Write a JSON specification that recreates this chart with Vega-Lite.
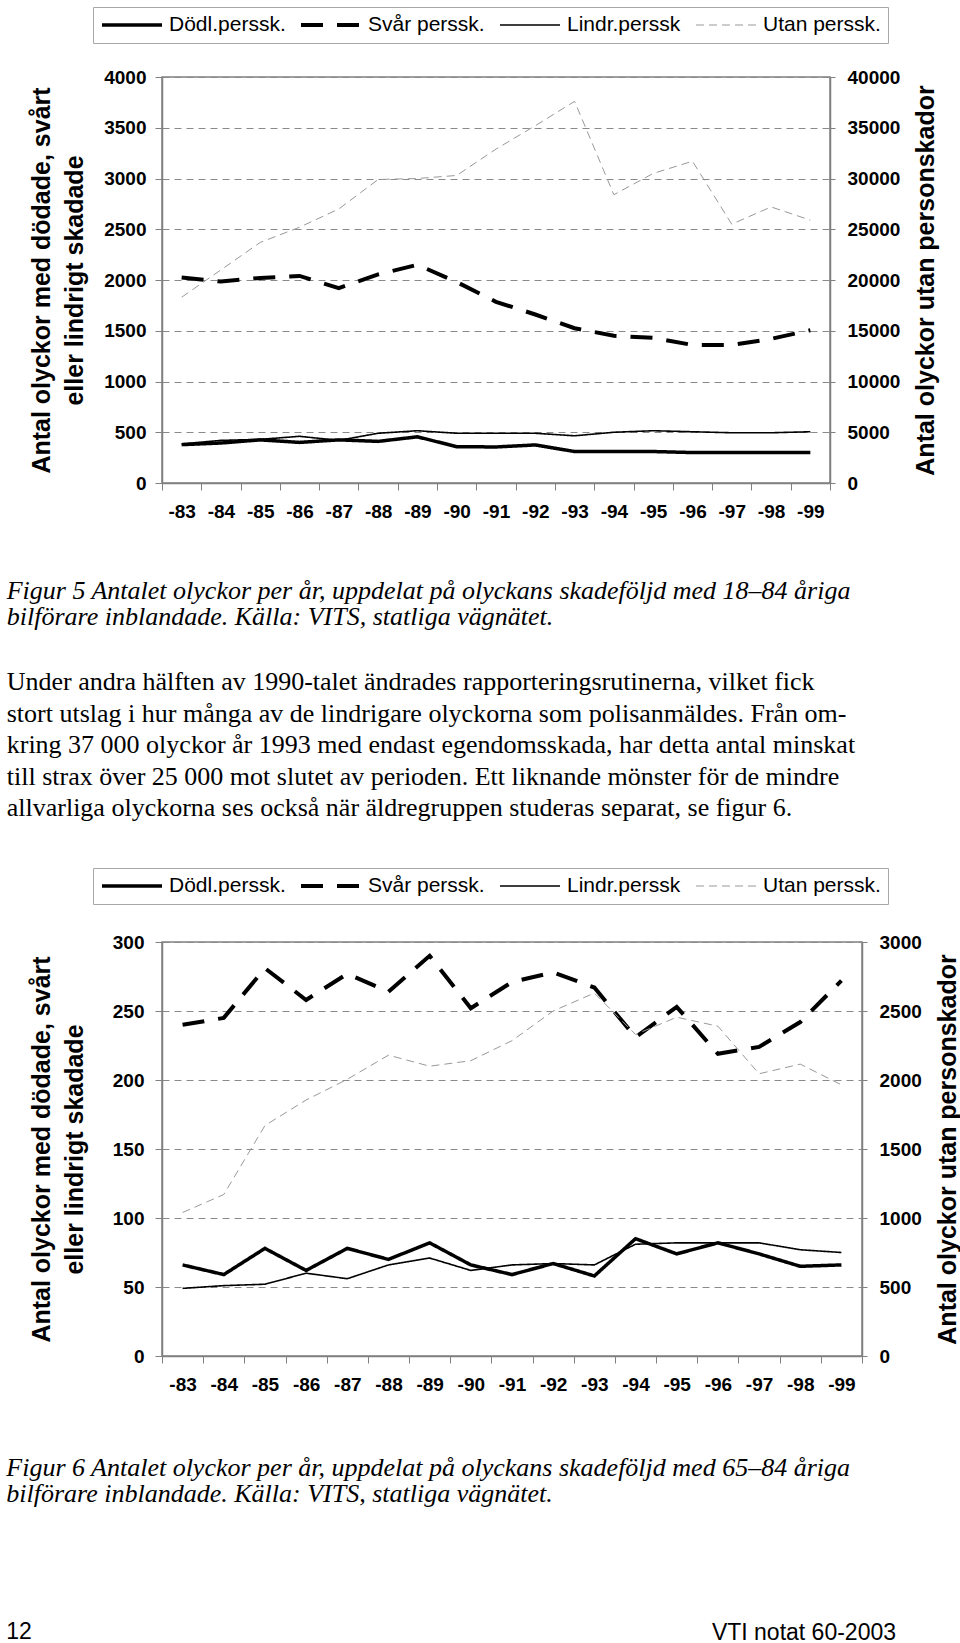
{
  "$schema": "https://vega.github.io/schema/vega-lite/v6.json",
  "background": "white",
  "padding": {"left": 5, "top": 5, "right": 0, "bottom": 0},
  "spacing": 44,
  "config": {
    "font": "Liberation Sans",
    "view": {"stroke": "#808080", "strokeWidth": 1.5},
    "axis": {"labelColor": "black", "titleColor": "black", "labelFont": "Liberation Sans", "labelFontWeight": "bold", "labelFontSize": 19, "titleFont": "Liberation Sans", "titleFontWeight": "bold", "titleFontSize": 25, "domainColor": "#808080", "domainWidth": 1.5, "tickColor": "#808080", "gridColor": "#8a8a8a", "gridDash": [7, 5], "gridWidth": 1},
    "legend": {"direction": "horizontal", "columns": 4, "strokeColor": "#a8a8a8", "padding": 7, "labelFont": "Liberation Sans", "labelFontSize": 21, "labelColor": "black", "symbolType": "stroke", "symbolSize": 3600, "clipHeight": 22, "columnPadding": 13, "labelOffset": 5, "labelLimit": 300}
  },
  "resolve": {"scale": {"color": "independent", "strokeDash": "independent", "strokeWidth": "independent"}},
  "title": {"text": "VTI notat 60-2003", "orient": "bottom", "anchor": "end", "font": "Liberation Sans", "fontSize": 23, "fontWeight": "normal", "color": "black", "offset": -23, "dx": -65},
  "vconcat": [
    {
      "width": 668,
      "height": 406,
      "title": {
        "text": ["Figur 5  Antalet olyckor per år, uppdelat på olyckans skadeföljd med 18–84 åriga", "bilförare inblandade. Källa: VITS, statliga vägnätet."],
        "subtitle": ["Under andra hälften av 1990-talet ändrades rapporteringsrutinerna, vilket fick", "stort utslag i hur många av de lindrigare olyckorna som polisanmäldes. Från om-", "kring 37 000 olyckor år 1993 med endast egendomsskada, har detta antal minskat", "till strax över 25 000 mot slutet av perioden. Ett liknande mönster för de mindre", "allvarliga olyckorna ses också när äldregruppen studeras separat, se figur 6."],
        "orient": "bottom", "anchor": "start", "frame": "bounds", "dx": -23, "offset": 57,
        "font": "Liberation Serif", "fontSize": 26, "fontStyle": "italic", "fontWeight": "normal", "lineHeight": 26, "color": "black",
        "subtitleFont": "Liberation Serif", "subtitleFontSize": 26, "subtitleFontStyle": "normal", "subtitleFontWeight": "normal", "subtitleColor": "black", "subtitleLineHeight": 31.5, "subtitlePadding": 39
      },
      "resolve": {"scale": {"y": "independent"}},
      "layer": [
        {
          "data": {"values": [
            {"serie": "Dödl.perssk.", "ar": "-83", "antal": 378}, {"serie": "Dödl.perssk.", "ar": "-84", "antal": 394}, {"serie": "Dödl.perssk.", "ar": "-85", "antal": 425}, {"serie": "Dödl.perssk.", "ar": "-86", "antal": 400}, {"serie": "Dödl.perssk.", "ar": "-87", "antal": 425}, {"serie": "Dödl.perssk.", "ar": "-88", "antal": 410}, {"serie": "Dödl.perssk.", "ar": "-89", "antal": 455}, {"serie": "Dödl.perssk.", "ar": "-90", "antal": 358}, {"serie": "Dödl.perssk.", "ar": "-91", "antal": 355}, {"serie": "Dödl.perssk.", "ar": "-92", "antal": 375}, {"serie": "Dödl.perssk.", "ar": "-93", "antal": 310}, {"serie": "Dödl.perssk.", "ar": "-94", "antal": 310}, {"serie": "Dödl.perssk.", "ar": "-95", "antal": 310}, {"serie": "Dödl.perssk.", "ar": "-96", "antal": 300}, {"serie": "Dödl.perssk.", "ar": "-97", "antal": 300}, {"serie": "Dödl.perssk.", "ar": "-98", "antal": 300}, {"serie": "Dödl.perssk.", "ar": "-99", "antal": 300},
            {"serie": "Svår perssk.", "ar": "-83", "antal": 2025}, {"serie": "Svår perssk.", "ar": "-84", "antal": 1985}, {"serie": "Svår perssk.", "ar": "-85", "antal": 2020}, {"serie": "Svår perssk.", "ar": "-86", "antal": 2040}, {"serie": "Svår perssk.", "ar": "-87", "antal": 1920}, {"serie": "Svår perssk.", "ar": "-88", "antal": 2055}, {"serie": "Svår perssk.", "ar": "-89", "antal": 2150}, {"serie": "Svår perssk.", "ar": "-90", "antal": 1980}, {"serie": "Svår perssk.", "ar": "-91", "antal": 1785}, {"serie": "Svår perssk.", "ar": "-92", "antal": 1660}, {"serie": "Svår perssk.", "ar": "-93", "antal": 1525}, {"serie": "Svår perssk.", "ar": "-94", "antal": 1450}, {"serie": "Svår perssk.", "ar": "-95", "antal": 1430}, {"serie": "Svår perssk.", "ar": "-96", "antal": 1360}, {"serie": "Svår perssk.", "ar": "-97", "antal": 1360}, {"serie": "Svår perssk.", "ar": "-98", "antal": 1420}, {"serie": "Svår perssk.", "ar": "-99", "antal": 1505},
            {"serie": "Lindr.perssk", "ar": "-83", "antal": 385}, {"serie": "Lindr.perssk", "ar": "-84", "antal": 420}, {"serie": "Lindr.perssk", "ar": "-85", "antal": 430}, {"serie": "Lindr.perssk", "ar": "-86", "antal": 460}, {"serie": "Lindr.perssk", "ar": "-87", "antal": 420}, {"serie": "Lindr.perssk", "ar": "-88", "antal": 490}, {"serie": "Lindr.perssk", "ar": "-89", "antal": 515}, {"serie": "Lindr.perssk", "ar": "-90", "antal": 490}, {"serie": "Lindr.perssk", "ar": "-91", "antal": 490}, {"serie": "Lindr.perssk", "ar": "-92", "antal": 490}, {"serie": "Lindr.perssk", "ar": "-93", "antal": 465}, {"serie": "Lindr.perssk", "ar": "-94", "antal": 500}, {"serie": "Lindr.perssk", "ar": "-95", "antal": 515}, {"serie": "Lindr.perssk", "ar": "-96", "antal": 505}, {"serie": "Lindr.perssk", "ar": "-97", "antal": 495}, {"serie": "Lindr.perssk", "ar": "-98", "antal": 495}, {"serie": "Lindr.perssk", "ar": "-99", "antal": 505}
          ]},
          "mark": {"type": "line"},
          "encoding": {
            "x": {"field": "ar", "type": "nominal", "bandPosition": 0.5, "scale": {"type": "band", "domain": ["-83", "-84", "-85", "-86", "-87", "-88", "-89", "-90", "-91", "-92", "-93", "-94", "-95", "-96", "-97", "-98", "-99"], "paddingInner": 0, "paddingOuter": 0}, "axis": {"title": null, "labelAngle": 0, "tickBand": "extent", "tickSize": 7, "labelPadding": 12, "grid": false}},
            "y": {"field": "antal", "type": "quantitative", "scale": {"domain": [0, 4000], "nice": false}, "axis": {"title": ["Antal olyckor med dödade, svårt", "eller lindrigt skadade"], "values": [0, 500, 1000, 1500, 2000, 2500, 3000, 3500, 4000], "format": "d", "grid": true, "tickSize": 7, "labelPadding": 9, "titlePadding": 16, "titleLineHeight": 33}},
            "color": {"field": "serie", "type": "nominal", "scale": {"domain": ["Dödl.perssk.", "Svår perssk.", "Lindr.perssk", "Utan perssk."], "range": ["black", "black", "black", "#999999"]}, "legend": {"title": null, "orient": "none", "legendX": -69, "legendY": -70, "encode": {"symbols": {"update": {"strokeWidth": {"signal": "indexof(['Dödl.perssk.', 'Svår perssk.'], datum.value) >= 0 ? 3.5 : (datum.value === 'Lindr.perssk' ? 1.6 : 1)"}}}}}},
            "strokeDash": {"field": "serie", "type": "nominal", "scale": {"domain": ["Dödl.perssk.", "Svår perssk.", "Lindr.perssk", "Utan perssk."], "range": [[1, 0], [22, 14], [1, 0], [8, 5]]}, "legend": {"title": null, "orient": "none", "legendX": -69, "legendY": -70, "encode": {"symbols": {"update": {"strokeWidth": {"signal": "indexof(['Dödl.perssk.', 'Svår perssk.'], datum.value) >= 0 ? 3.5 : (datum.value === 'Lindr.perssk' ? 1.6 : 1)"}}}}}},
            "strokeWidth": {"field": "serie", "type": "nominal", "scale": {"type": "ordinal", "domain": ["Dödl.perssk.", "Svår perssk.", "Lindr.perssk", "Utan perssk."], "range": [3.5, 4, 1.6, 1]}, "legend": null}
          }
        },
        {
          "data": {"values": [
            {"serie": "Utan perssk.", "ar": "-83", "antal": 18300}, {"serie": "Utan perssk.", "ar": "-84", "antal": 21000}, {"serie": "Utan perssk.", "ar": "-85", "antal": 23700}, {"serie": "Utan perssk.", "ar": "-86", "antal": 25200}, {"serie": "Utan perssk.", "ar": "-87", "antal": 27000}, {"serie": "Utan perssk.", "ar": "-88", "antal": 29900}, {"serie": "Utan perssk.", "ar": "-89", "antal": 30000}, {"serie": "Utan perssk.", "ar": "-90", "antal": 30300}, {"serie": "Utan perssk.", "ar": "-91", "antal": 32900}, {"serie": "Utan perssk.", "ar": "-92", "antal": 35200}, {"serie": "Utan perssk.", "ar": "-93", "antal": 37600}, {"serie": "Utan perssk.", "ar": "-94", "antal": 28400}, {"serie": "Utan perssk.", "ar": "-95", "antal": 30500}, {"serie": "Utan perssk.", "ar": "-96", "antal": 31700}, {"serie": "Utan perssk.", "ar": "-97", "antal": 25500}, {"serie": "Utan perssk.", "ar": "-98", "antal": 27200}, {"serie": "Utan perssk.", "ar": "-99", "antal": 25900}
          ]},
          "mark": {"type": "line"},
          "encoding": {
            "x": {"field": "ar", "type": "nominal", "bandPosition": 0.5, "axis": {"title": null, "labelAngle": 0, "tickBand": "extent", "tickSize": 7, "labelPadding": 12, "grid": false}},
            "y": {"field": "antal", "type": "quantitative", "scale": {"domain": [0, 40000], "nice": false}, "axis": {"orient": "right", "title": "Antal olyckor utan personskador", "values": [0, 5000, 10000, 15000, 20000, 25000, 30000, 35000, 40000], "format": "d", "grid": false, "tickSize": 5, "labelPadding": 12, "titlePadding": 14, "titleAngle": 270, "titleBaseline": "top"}},
            "color": {"field": "serie", "type": "nominal", "legend": {"title": null, "orient": "none", "legendX": -69, "legendY": -70, "encode": {"symbols": {"update": {"strokeWidth": {"signal": "indexof(['Dödl.perssk.', 'Svår perssk.'], datum.value) >= 0 ? 3.5 : (datum.value === 'Lindr.perssk' ? 1.6 : 1)"}}}}}},
            "strokeDash": {"field": "serie", "type": "nominal", "legend": {"title": null, "orient": "none", "legendX": -69, "legendY": -70, "encode": {"symbols": {"update": {"strokeWidth": {"signal": "indexof(['Dödl.perssk.', 'Svår perssk.'], datum.value) >= 0 ? 3.5 : (datum.value === 'Lindr.perssk' ? 1.6 : 1)"}}}}}},
            "strokeWidth": {"field": "serie", "type": "nominal", "scale": {"type": "ordinal"}, "legend": null}
          }
        }
      ]
    },
    {
      "width": 700,
      "height": 414,
      "title": {
        "text": ["Figur 6  Antalet olyckor per år, uppdelat på olyckans skadeföljd med 65–84 åriga", "bilförare inblandade. Källa: VITS, statliga vägnätet."],
        "subtitle": ["12"],
        "orient": "bottom", "anchor": "start", "frame": "bounds", "dx": -23, "offset": 61,
        "font": "Liberation Serif", "fontSize": 26, "fontStyle": "italic", "fontWeight": "normal", "lineHeight": 26, "color": "black",
        "subtitleFont": "Liberation Sans", "subtitleFontSize": 23, "subtitleFontStyle": "normal", "subtitleFontWeight": "normal", "subtitleColor": "black", "subtitleLineHeight": 23, "subtitlePadding": 114
      },
      "resolve": {"scale": {"y": "independent"}},
      "layer": [
        {
          "data": {"values": [
            {"serie": "Dödl.perssk.", "ar": "-83", "antal": 66}, {"serie": "Dödl.perssk.", "ar": "-84", "antal": 59}, {"serie": "Dödl.perssk.", "ar": "-85", "antal": 78}, {"serie": "Dödl.perssk.", "ar": "-86", "antal": 62}, {"serie": "Dödl.perssk.", "ar": "-87", "antal": 78}, {"serie": "Dödl.perssk.", "ar": "-88", "antal": 70}, {"serie": "Dödl.perssk.", "ar": "-89", "antal": 82}, {"serie": "Dödl.perssk.", "ar": "-90", "antal": 66}, {"serie": "Dödl.perssk.", "ar": "-91", "antal": 59}, {"serie": "Dödl.perssk.", "ar": "-92", "antal": 67}, {"serie": "Dödl.perssk.", "ar": "-93", "antal": 58}, {"serie": "Dödl.perssk.", "ar": "-94", "antal": 85}, {"serie": "Dödl.perssk.", "ar": "-95", "antal": 74}, {"serie": "Dödl.perssk.", "ar": "-96", "antal": 82}, {"serie": "Dödl.perssk.", "ar": "-97", "antal": 74}, {"serie": "Dödl.perssk.", "ar": "-98", "antal": 65}, {"serie": "Dödl.perssk.", "ar": "-99", "antal": 66},
            {"serie": "Svår perssk.", "ar": "-83", "antal": 240}, {"serie": "Svår perssk.", "ar": "-84", "antal": 245}, {"serie": "Svår perssk.", "ar": "-85", "antal": 281}, {"serie": "Svår perssk.", "ar": "-86", "antal": 258}, {"serie": "Svår perssk.", "ar": "-87", "antal": 277}, {"serie": "Svår perssk.", "ar": "-88", "antal": 264}, {"serie": "Svår perssk.", "ar": "-89", "antal": 290}, {"serie": "Svår perssk.", "ar": "-90", "antal": 252}, {"serie": "Svår perssk.", "ar": "-91", "antal": 271}, {"serie": "Svår perssk.", "ar": "-92", "antal": 278}, {"serie": "Svår perssk.", "ar": "-93", "antal": 267}, {"serie": "Svår perssk.", "ar": "-94", "antal": 231}, {"serie": "Svår perssk.", "ar": "-95", "antal": 253}, {"serie": "Svår perssk.", "ar": "-96", "antal": 219}, {"serie": "Svår perssk.", "ar": "-97", "antal": 224}, {"serie": "Svår perssk.", "ar": "-98", "antal": 242}, {"serie": "Svår perssk.", "ar": "-99", "antal": 272},
            {"serie": "Lindr.perssk", "ar": "-83", "antal": 49}, {"serie": "Lindr.perssk", "ar": "-84", "antal": 51}, {"serie": "Lindr.perssk", "ar": "-85", "antal": 52}, {"serie": "Lindr.perssk", "ar": "-86", "antal": 60}, {"serie": "Lindr.perssk", "ar": "-87", "antal": 56}, {"serie": "Lindr.perssk", "ar": "-88", "antal": 66}, {"serie": "Lindr.perssk", "ar": "-89", "antal": 71}, {"serie": "Lindr.perssk", "ar": "-90", "antal": 62}, {"serie": "Lindr.perssk", "ar": "-91", "antal": 66}, {"serie": "Lindr.perssk", "ar": "-92", "antal": 67}, {"serie": "Lindr.perssk", "ar": "-93", "antal": 66}, {"serie": "Lindr.perssk", "ar": "-94", "antal": 81}, {"serie": "Lindr.perssk", "ar": "-95", "antal": 82}, {"serie": "Lindr.perssk", "ar": "-96", "antal": 82}, {"serie": "Lindr.perssk", "ar": "-97", "antal": 82}, {"serie": "Lindr.perssk", "ar": "-98", "antal": 77}, {"serie": "Lindr.perssk", "ar": "-99", "antal": 75}
          ]},
          "mark": {"type": "line"},
          "encoding": {
            "x": {"field": "ar", "type": "nominal", "bandPosition": 0.5, "scale": {"type": "band", "domain": ["-83", "-84", "-85", "-86", "-87", "-88", "-89", "-90", "-91", "-92", "-93", "-94", "-95", "-96", "-97", "-98", "-99"], "paddingInner": 0, "paddingOuter": 0}, "axis": {"title": null, "labelAngle": 0, "tickBand": "extent", "tickSize": 7, "labelPadding": 12, "grid": false}},
            "y": {"field": "antal", "type": "quantitative", "scale": {"domain": [0, 300], "nice": false}, "axis": {"title": ["Antal olyckor med dödade, svårt", "eller lindrigt skadade"], "values": [0, 50, 100, 150, 200, 250, 300], "format": "d", "grid": true, "tickSize": 7, "labelPadding": 11, "titlePadding": 25, "titleLineHeight": 33}},
            "color": {"field": "serie", "type": "nominal", "scale": {"domain": ["Dödl.perssk.", "Svår perssk.", "Lindr.perssk", "Utan perssk."], "range": ["black", "black", "black", "#999999"]}, "legend": {"title": null, "orient": "none", "legendX": -69, "legendY": -74, "encode": {"symbols": {"update": {"strokeWidth": {"signal": "indexof(['Dödl.perssk.', 'Svår perssk.'], datum.value) >= 0 ? 3.5 : (datum.value === 'Lindr.perssk' ? 1.6 : 1)"}}}}}},
            "strokeDash": {"field": "serie", "type": "nominal", "scale": {"domain": ["Dödl.perssk.", "Svår perssk.", "Lindr.perssk", "Utan perssk."], "range": [[1, 0], [22, 14], [1, 0], [8, 5]]}, "legend": {"title": null, "orient": "none", "legendX": -69, "legendY": -74, "encode": {"symbols": {"update": {"strokeWidth": {"signal": "indexof(['Dödl.perssk.', 'Svår perssk.'], datum.value) >= 0 ? 3.5 : (datum.value === 'Lindr.perssk' ? 1.6 : 1)"}}}}}},
            "strokeWidth": {"field": "serie", "type": "nominal", "scale": {"type": "ordinal", "domain": ["Dödl.perssk.", "Svår perssk.", "Lindr.perssk", "Utan perssk."], "range": [3.5, 4, 1.6, 1]}, "legend": null}
          }
        },
        {
          "data": {"values": [
            {"serie": "Utan perssk.", "ar": "-83", "antal": 1040}, {"serie": "Utan perssk.", "ar": "-84", "antal": 1170}, {"serie": "Utan perssk.", "ar": "-85", "antal": 1670}, {"serie": "Utan perssk.", "ar": "-86", "antal": 1855}, {"serie": "Utan perssk.", "ar": "-87", "antal": 2005}, {"serie": "Utan perssk.", "ar": "-88", "antal": 2180}, {"serie": "Utan perssk.", "ar": "-89", "antal": 2100}, {"serie": "Utan perssk.", "ar": "-90", "antal": 2140}, {"serie": "Utan perssk.", "ar": "-91", "antal": 2285}, {"serie": "Utan perssk.", "ar": "-92", "antal": 2500}, {"serie": "Utan perssk.", "ar": "-93", "antal": 2630}, {"serie": "Utan perssk.", "ar": "-94", "antal": 2330}, {"serie": "Utan perssk.", "ar": "-95", "antal": 2455}, {"serie": "Utan perssk.", "ar": "-96", "antal": 2390}, {"serie": "Utan perssk.", "ar": "-97", "antal": 2045}, {"serie": "Utan perssk.", "ar": "-98", "antal": 2115}, {"serie": "Utan perssk.", "ar": "-99", "antal": 1965}
          ]},
          "mark": {"type": "line"},
          "encoding": {
            "x": {"field": "ar", "type": "nominal", "bandPosition": 0.5, "axis": {"title": null, "labelAngle": 0, "tickBand": "extent", "tickSize": 7, "labelPadding": 12, "grid": false}},
            "y": {"field": "antal", "type": "quantitative", "scale": {"domain": [0, 3000], "nice": false}, "axis": {"orient": "right", "title": "Antal olyckor utan personskador", "values": [0, 500, 1000, 1500, 2000, 2500, 3000], "format": "d", "grid": false, "tickSize": 5, "labelPadding": 12, "titlePadding": 14, "titleAngle": 270, "titleBaseline": "top"}},
            "color": {"field": "serie", "type": "nominal", "legend": {"title": null, "orient": "none", "legendX": -69, "legendY": -74, "encode": {"symbols": {"update": {"strokeWidth": {"signal": "indexof(['Dödl.perssk.', 'Svår perssk.'], datum.value) >= 0 ? 3.5 : (datum.value === 'Lindr.perssk' ? 1.6 : 1)"}}}}}},
            "strokeDash": {"field": "serie", "type": "nominal", "legend": {"title": null, "orient": "none", "legendX": -69, "legendY": -74, "encode": {"symbols": {"update": {"strokeWidth": {"signal": "indexof(['Dödl.perssk.', 'Svår perssk.'], datum.value) >= 0 ? 3.5 : (datum.value === 'Lindr.perssk' ? 1.6 : 1)"}}}}}},
            "strokeWidth": {"field": "serie", "type": "nominal", "scale": {"type": "ordinal"}, "legend": null}
          }
        }
      ]
    }
  ]
}
